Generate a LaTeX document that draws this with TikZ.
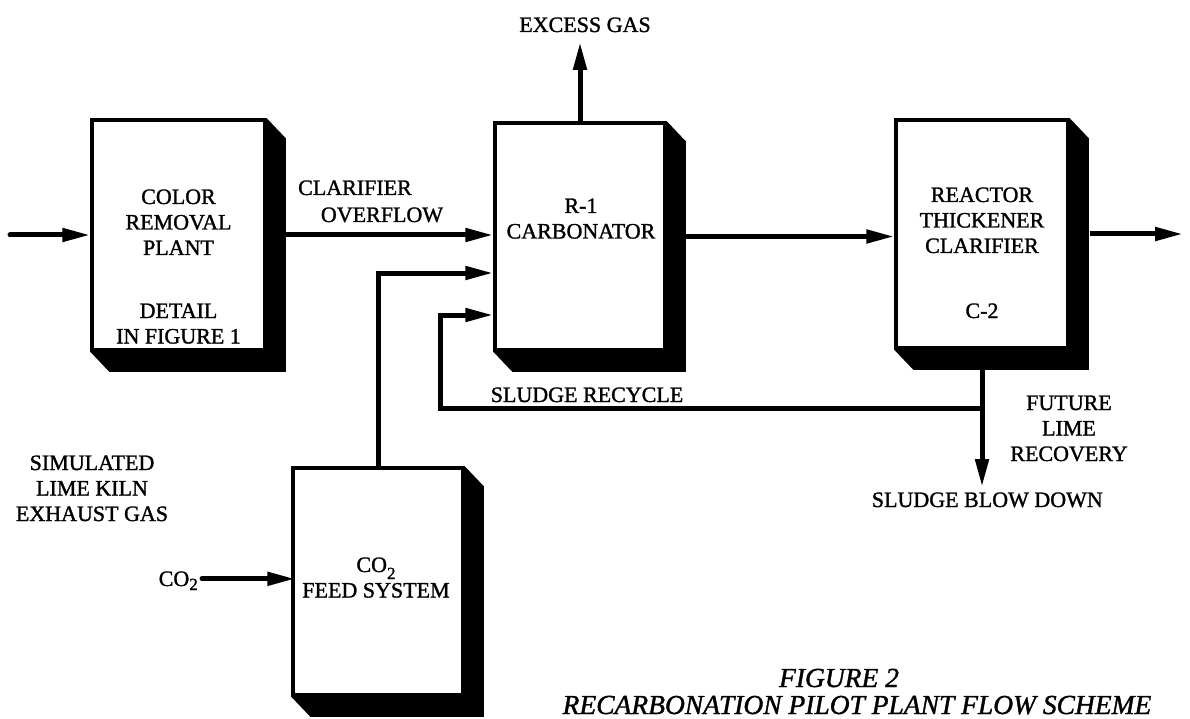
\documentclass[tikz,border=0pt]{standalone}
\usepackage{fontspec}
\setmainfont{Liberation Serif}[FakeBold=1.3]
\usetikzlibrary{arrows.meta,calc,backgrounds}
\newcommand{\stk}[1]{\begin{tabular}[t]{@{}c@{}}#1\end{tabular}}
\newcommand{\subtwo}[1]{\smash{\raisebox{#1}{\fontsize{17}{17}\selectfont 2}}}
\newcommand{\dropext}[1]{\fill (#1.north east) -- ++(19,20) -- ($(#1.south east)+(19,20)$) -- ($(#1.south west)+(19,20)$) -- (#1.south west) -- cycle;}
\tikzset{
  lbl/.style={font=\fontsize{22}{25.5}\selectfont, inner sep=0pt, anchor=base},
  capt/.style={font=\fontsize{27.5}{30}\selectfont\itshape, inner sep=0pt, anchor=base},
  box/.style={draw, line width=3.5pt, fill=white, rectangle, inner sep=0pt},
  flow/.style={line width=5pt, line join=miter, -{Triangle[length=28pt,width=13pt]}}
}
\begin{document}
\begin{tikzpicture}[x=1pt,y=-1pt]
\useasboundingbox (0,0) rectangle (1190,719);
% boxes
\node[box, minimum width=173, minimum height=230] (b1) at (178.5,235) {};
\node[box, minimum width=170, minimum height=227] (b2) at (580,236.5) {};
\node[box, minimum width=172, minimum height=228] (b3) at (982,234) {};
\node[box, minimum width=170, minimum height=227] (b4) at (378,581.5) {};
\begin{scope}[on background layer]
  \dropext{b1}
  \dropext{b2}
  \dropext{b3}
  \dropext{b4}
\end{scope}
% box labels
\node[lbl] (t1) at (178.5,204) {\stk{COLOR\\REMOVAL\\PLANT}};
\node[lbl] (t1b) at (178.5,318) {\stk{DETAIL\\IN FIGURE 1}};
\node[lbl] (t2) at (581,213) {\stk{R-1\\CARBONATOR}};
\node[lbl] (t3) at (982,202) {\stk{REACTOR\\THICKENER\\CLARIFIER}};
\node[lbl] (t3b) at (982,318) {C-2};
\node[lbl] (t4) at (376,572) {\stk{CO\subtwo{-7pt}\\FEED SYSTEM}};
% free labels
\node[lbl] (clar) at (355,195) {CLARIFIER};
\node[lbl] (ovf) at (382,222) {OVERFLOW};
\node[lbl] (exg) at (585,32) {EXCESS GAS};
\node[lbl] (slr) at (587,402) {SLUDGE RECYCLE};
\node[lbl] (flr) at (1069,410) {\stk{FUTURE\\LIME\\RECOVERY}};
\node[lbl, anchor=base east] (sbd) at (1103,507) {SLUDGE BLOW DOWN};
\node[lbl] (sim) at (92,470) {\stk{SIMULATED\\LIME KILN\\EXHAUST GAS}};
\node[lbl, anchor=base east] (co2) at (198,586) {CO\subtwo{-4pt}};
\node[capt] (cap1) at (839,687) {FIGURE 2};
\node[capt] (cap2) at (857,714) {RECARBONATION PILOT PLANT FLOW SCHEME};
% connectors
\coordinate (src) at (10,235);
\draw[flow, line cap=round] (src) -- (b1.west);
\coordinate (o1) at ($(b1.east)+(19,0)$);
\draw[flow] (o1) -- (o1 -| b2.west);
\coordinate (o2) at ($(b2.east)+(19,0)$);
\draw[flow] (o2) -- (o2 -| b3.west);
\coordinate (o3) at ($(b3.east)+(20,0)$);
\coordinate (out) at (1183,234);
\draw[flow] (o3) -- (out);
\coordinate (eg) at (580,42);
\draw[flow] (b2.north) -- (eg);
\coordinate (f2) at (0,273);
\draw[flow] (b4.north) |- (f2 -| b2.west);
\coordinate (u3) at ($(b3.south)+(0,20)$);
\coordinate (bd) at (982,487);
\draw[flow] (u3) -- (bd);
\coordinate (j) at (982,408);
\coordinate (rc) at (440,315);
\draw[flow] (j) -| (rc) -- (rc -| b2.west);
\draw[flow, line cap=round] ([xshift=4pt]co2.east) -- ([xshift=4pt]co2.east -| b4.west);
\end{tikzpicture}
\end{document}
